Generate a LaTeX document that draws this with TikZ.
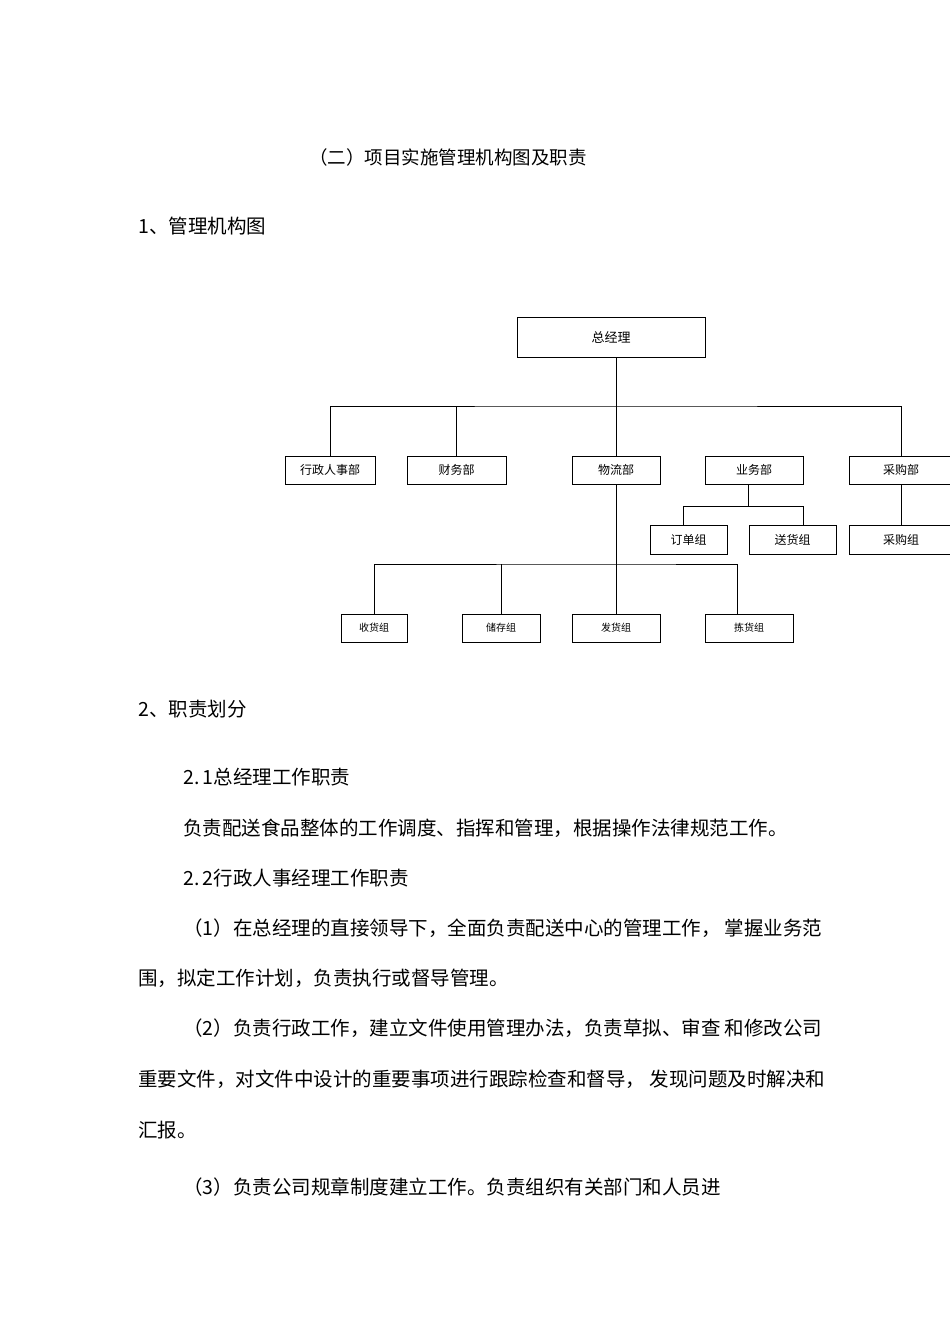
\documentclass[tikz,border=0pt]{standalone}
\usepackage{fontspec}
\setmainfont{Noto Sans CJK SC}
\begin{document}
\begin{tikzpicture}[x=1pt,y=-1pt,
 bx/.style={draw,line width=0.8pt,minimum height=28pt,inner sep=0pt,font=\fontsize{12}{12}\selectfont},
 ln/.style={line width=0.8pt},
 tx/.style={anchor=west,inner sep=0pt,font=\fontsize{19.5}{19.5}\selectfont}]
\useasboundingbox (0,0) rectangle (950,1344);
\node[anchor=center,inner sep=0pt,font=\fontsize{18.5}{18.5}\selectfont] (title) at (448,157) {（二）项目实施管理机构图及职责};
\node[tx] (h1) at (138,226) {1、管理机构图};
% chart
\node[bx,minimum width=188pt,minimum height=40pt,font=\fontsize{13}{13}\selectfont] (gm) at (611,337) {总经理};
\node[bx,minimum width=90pt] (xz) at (330,470) {行政人事部};
\node[bx,minimum width=99pt] (cw) at (456.5,470) {财务部};
\node[bx,minimum width=88pt] (wl) at (616,470) {物流部};
\node[bx,minimum width=98pt] (yw) at (754,470) {业务部};
\node[bx,minimum width=104pt] (cg) at (901,470) {采购部};
\node[bx,minimum width=77pt,minimum height=29pt] (dd) at (688.5,539.5) {订单组};
\node[bx,minimum width=87pt,minimum height=29pt] (sh) at (792.5,539.5) {送货组};
\node[bx,minimum width=104pt,minimum height=29pt] (cgz) at (901,539.5) {采购组};
\node[bx,minimum width=66pt,font=\fontsize{10}{10}\selectfont] (shz) at (374,628) {收货组};
\node[bx,minimum width=78pt,font=\fontsize{10}{10}\selectfont] (cc) at (501,628) {储存组};
\node[bx,minimum width=88pt,font=\fontsize{10}{10}\selectfont] (fh) at (616,628) {发货组};
\node[bx,minimum width=88pt,font=\fontsize{10}{10}\selectfont] (jh) at (749,628) {拣货组};
\coordinate (b1) at (616,406);
\draw[ln] (gm.south -| b1) -- (b1);
\draw[ln] (xz.north) |- (b1) -| (cg.north);
\draw[ln] (cw.north) -- (cw.north |- b1);
\draw[ln] (wl.north) -- (b1);
\coordinate (b2) at (748,506);
\draw[ln] (yw.north -| b2) -- (yw.north -| b2 |- b1);
\draw[ln] (yw.south -| b2) -- (b2);
\coordinate (b2l) at (683,506);
\coordinate (b2r) at (803,506);
\draw[ln] (dd.north -| b2l) -- (b2l) -- (b2r) -- (sh.north -| b2r);
\draw[ln] (cg.south) -- (cgz.north);
\coordinate (b3) at (616,564);
\coordinate (b3r) at (737,564);
\draw[ln] (wl.south) -- (fh.north);
\draw[ln] (shz.north) |- (b3) -- (b3r) -- (jh.north -| b3r);
\draw[ln] (cc.north) -- (cc.north |- b3);
% text
\node[tx] (h2) at (138,709) {2、职责划分};
\node[tx] (s21) at (183,777) {2.\,1总经理工作职责};
\node[tx] (p1) at (183,828) {负责配送食品整体的工作调度、指挥和管理，根据操作法律规范工作。};
\node[tx] (s22) at (183,878) {2.\,2行政人事经理工作职责};
\node[tx] (p2) at (183,928) {（1）在总经理的直接领导下，全面负责配送中心的管理工作，\ 掌握业务范};
\node[tx] (p3) at (138,978) {围，拟定工作计划，负责执行或督导管理。};
\node[tx] (p4) at (183,1028) {（2）负责行政工作，建立文件使用管理办法，负责草拟、审查\ 和修改公司};
\node[tx] (p5) at (138,1079) {重要文件，对文件中设计的重要事项进行跟踪检查和督导，\ 发现问题及时解决和};
\node[tx] (p6) at (138,1130) {汇报。};
\node[tx] (p7) at (183,1187) {（3）负责公司规章制度建立工作。负责组织有关部门和人员进};
\end{tikzpicture}
\end{document}
